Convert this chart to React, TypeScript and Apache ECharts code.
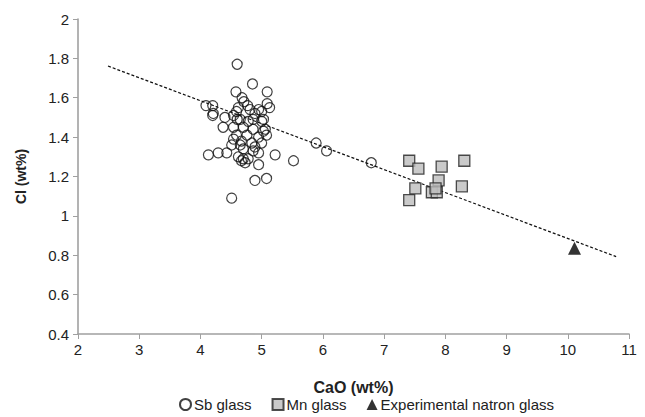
import React, { useEffect, useRef } from "react";
import * as echarts from "echarts";

const sbGlass: number[][] = [
  [4.60, 1.77], [4.85, 1.67], [5.09, 1.63], [4.58, 1.63], [4.68, 1.60], [4.71, 1.58],
  [4.09, 1.56], [4.20, 1.56], [4.21, 1.52], [4.20, 1.51], [5.09, 1.57], [5.13, 1.55],
  [4.77, 1.56], [4.81, 1.54], [4.62, 1.55], [4.59, 1.53], [4.95, 1.54], [4.54, 1.51],
  [4.89, 1.52], [5.00, 1.53], [4.40, 1.50], [4.60, 1.49], [4.65, 1.49], [4.86, 1.49],
  [4.78, 1.48], [5.03, 1.49], [5.00, 1.48], [4.37, 1.45], [4.54, 1.45], [4.70, 1.45],
  [4.86, 1.44], [5.03, 1.43], [5.06, 1.44], [4.59, 1.41], [4.76, 1.41], [4.95, 1.40],
  [5.08, 1.41], [4.54, 1.39], [4.67, 1.38], [4.84, 1.37], [5.00, 1.37], [4.51, 1.36],
  [4.65, 1.36], [4.70, 1.34], [4.86, 1.33], [4.89, 1.35], [4.13, 1.31], [4.29, 1.32],
  [4.43, 1.32], [4.62, 1.30], [4.67, 1.28], [4.70, 1.29], [4.73, 1.27], [4.78, 1.29],
  [4.95, 1.32], [4.95, 1.26], [5.22, 1.31], [5.52, 1.28], [4.89, 1.18], [5.08, 1.19],
  [4.51, 1.09], [5.89, 1.37], [6.06, 1.33], [6.79, 1.27],
];

const mnGlass: number[][] = [
  [7.41, 1.28], [7.56, 1.24], [7.94, 1.25], [8.31, 1.28], [7.89, 1.18], [7.51, 1.14],
  [7.78, 1.12], [7.86, 1.12], [7.84, 1.14], [8.27, 1.15], [7.41, 1.08],
];

const natronGlass: number[][] = [[10.11, 0.835]];

const trendLine: number[][] = [[2.49, 1.761], [10.79, 0.793]];

const seriesNames = ["Sb glass", "Mn glass", "Experimental natron glass"];
const xTitle = "CaO (wt%)";
const yTitle = "Cl (wt%)";

const FONT = "'Liberation Sans', Arial, Helvetica, sans-serif";

export default function App() {
  const ref = useRef<HTMLDivElement>(null);
  useEffect(() => {
    if (!ref.current) return;
    const chart = echarts.init(ref.current, null, { renderer: "svg" });
    const axisLine = { show: true, lineStyle: { color: "#a0a0a0", width: 1.6 } };
    chart.setOption({
      animation: false,
      backgroundColor: "#ffffff",
      textStyle: { fontFamily: FONT },
      grid: { left: 78, right: 16, top: 19, bottom: 83, containLabel: false },
      legend: {
        top: 392,
        left: 174,
        itemWidth: 11,
        itemHeight: 11,
        itemGap: 20,
        textStyle: { fontFamily: FONT, fontSize: 15, color: "#222222", padding: [0, 0, 0, -2] },
        data: [
          { name: seriesNames[0], icon: "circle" },
          { name: seriesNames[1], icon: "rect" },
          { name: seriesNames[2], icon: "triangle" },
        ],
      },
      xAxis: {
        type: "value",
        min: 2,
        max: 11,
        interval: 1,
        name: xTitle,
        nameLocation: "middle",
        nameGap: 45,
        nameTextStyle: { fontFamily: FONT, fontSize: 16, fontWeight: "bold", color: "#222222" },
        axisLine,
        axisTick: { show: true, length: 5, lineStyle: { color: "#a0a0a0" } },
        axisLabel: { fontFamily: FONT, fontSize: 15, color: "#222222", margin: 8 },
        splitLine: { show: false },
      },
      yAxis: {
        type: "value",
        min: 0.4,
        max: 2,
        interval: 0.2,
        name: yTitle,
        nameLocation: "middle",
        nameGap: 50,
        nameTextStyle: { fontFamily: FONT, fontSize: 14, fontWeight: "bold", color: "#222222" },
        axisLine,
        axisTick: { show: true, length: 5, lineStyle: { color: "#a0a0a0" } },
        axisLabel: {
          fontFamily: FONT,
          fontSize: 15,
          color: "#222222",
          margin: 9,
          formatter: (v: number) => String(parseFloat(v.toFixed(1))),
        },
        splitLine: { show: false },
      },
      series: [
        {
          name: "trend",
          type: "line",
          data: trendLine,
          symbol: "none",
          silent: true,
          lineStyle: { color: "#111111", width: 1.2, type: [3, 2] },
          z: 1,
        },
        {
          name: seriesNames[0],
          type: "scatter",
          data: sbGlass,
          symbol: "circle",
          symbolSize: 10,
          itemStyle: { color: "rgba(255,255,255,0)", borderColor: "#111111", borderWidth: 1.2 },
          z: 2,
        },
        {
          name: seriesNames[1],
          type: "scatter",
          data: mnGlass,
          symbol: "rect",
          symbolSize: 11,
          itemStyle: { color: "#bdbdbd", borderColor: "#222222", borderWidth: 1.3 },
          z: 3,
        },
        {
          name: seriesNames[2],
          type: "scatter",
          data: natronGlass,
          symbol: "triangle",
          symbolSize: 13,
          itemStyle: { color: "#000000" },
          z: 4,
        },
      ],
    });
    return () => chart.dispose();
  }, []);
  return (
    <div
      ref={ref}
      style={{ position: "fixed", left: 0, top: 0, width: 645, height: 417, background: "#fff" }}
    />
  );
}
